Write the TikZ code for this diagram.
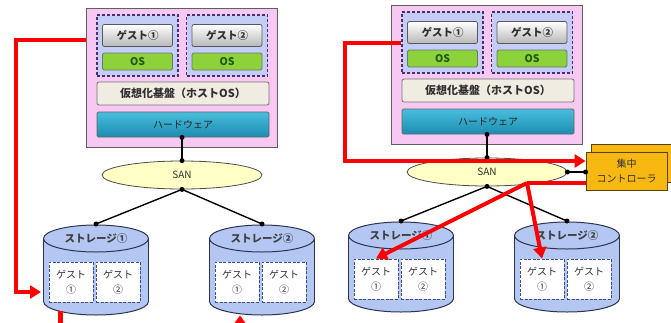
\documentclass[tikz,border=0pt]{standalone}
\usepackage{fontspec}
\setmainfont{Noto Sans CJK JP}
\usetikzlibrary{arrows.meta,shapes.geometric,calc}

\definecolor{hostpink}{HTML}{F6C8F2}
\definecolor{hostedge}{HTML}{606060}
\definecolor{guestblue}{HTML}{C3CDF6}
\definecolor{guestedge}{HTML}{4A3070}
\definecolor{osgreen}{HTML}{8CD23A}
\definecolor{ostext}{HTML}{1E5A14}
\definecolor{basebeige}{HTML}{F1ECE2}
\definecolor{hwtop}{HTML}{48BEDC}
\definecolor{hwbot}{HTML}{1C8CB0}
\definecolor{sanyellow}{HTML}{FFFFC6}
\definecolor{storblue}{HTML}{B4C6F2}
\definecolor{storedge}{HTML}{2E3450}
\definecolor{miniedge}{HTML}{3E4E80}
\definecolor{ctrlgold}{HTML}{F7B812}
\definecolor{ctrledge}{HTML}{5A4010}
\definecolor{txt}{HTML}{303030}

\tikzset{
  hostbox/.style={rectangle, inner sep=0pt, fill=hostpink, draw=hostedge, line width=0.9pt,
    minimum width=191pt, minimum height=139pt},
  guestbox/.style={rectangle, inner sep=0pt, fill=guestblue, draw=guestedge, line width=1.1pt,
    dash pattern=on 3pt off 2pt, minimum width=81pt, minimum height=61pt},
  btn/.style={rectangle, rounded corners=2pt, inner sep=0pt, top color=white, bottom color=black!28,
    draw=black!65, line width=0.8pt, minimum width=70pt, minimum height=22pt,
    font=\fontsize{10.5}{12}\selectfont\bfseries, text=txt},
  osbox/.style={rectangle, rounded corners=1.5pt, inner sep=0pt, fill=osgreen, draw=black!55,
    line width=0.8pt, minimum width=70pt, minimum height=17pt,
    font=\fontsize{10.5}{12}\selectfont\bfseries, text=ostext},
  basebox/.style={rectangle, rounded corners=2pt, inner sep=0pt, fill=basebeige, draw=black!55,
    line width=0.8pt, minimum width=172pt, minimum height=23pt,
    font=\fontsize{11}{12}\selectfont\bfseries, text=txt},
  hwbox/.style={rectangle, rounded corners=1.5pt, inner sep=0pt, top color=hwtop, bottom color=hwbot,
    draw=black!60, line width=0.8pt, minimum width=172pt, minimum height=25pt,
    font=\fontsize{10}{12}\selectfont, text=black!85},
  san/.style={ellipse, inner sep=0pt, fill=sanyellow, draw=black!70, line width=0.8pt,
    minimum width=160pt, minimum height=28pt, font=\fontsize{10}{11}\selectfont, text=txt},
  storfill/.style={fill=storblue},
  storline/.style={draw=storedge, line width=1pt},
  storlabel/.style={inner sep=0pt, font=\fontsize{10.5}{12}\selectfont\bfseries, text=black!75},
  mini/.style={rectangle, inner sep=0pt, fill=white, draw=miniedge, line width=1pt,
    dash pattern=on 3pt off 1.5pt, minimum width=44pt, minimum height=40pt, align=center,
    font=\fontsize{10}{15}\selectfont, text=txt},
  ctrlbox/.style={rectangle, inner sep=0pt, fill=ctrlgold, draw=ctrledge, line width=0.9pt,
    minimum width=81pt, minimum height=38pt, align=center,
    font=\fontsize{10}{15}\selectfont, text=txt},
  link/.style={draw=black, line width=1.4pt},
  jdot/.style={circle, fill=black, inner sep=0pt, minimum size=5pt},
  redline/.style={draw=red, line width=4pt, line join=miter},
  redarrow/.style={redline, -{Triangle[length=11pt,width=13pt]}},
}

% one storage cylinder: name, centre x, label
\newcommand\storcyl[3]{%
  \fill[storfill] (#2,301.5) ellipse[x radius=52.5, y radius=13.5];
  \draw[storline] (#2,301.5) ellipse[x radius=52.5, y radius=13.5];
  \fill[storfill] (#2-52.5,238.5) rectangle (#2+52.5,301.5);
  \draw[storline] (#2-52.5,238.5) -- (#2-52.5,301.5) (#2+52.5,238.5) -- (#2+52.5,301.5);
  \filldraw[storfill, storline] (#2,238.5) ellipse[x radius=52.5, y radius=13.5];
  \node[storlabel] (#1) at (#2,238.5) {#3};
  \coordinate (#1top) at (#2,224);
  \node[mini] (#1g1) at (#2-25,282) {ゲスト\\①};
  \node[mini] (#1g2) at (#2+22,282) {ゲスト\\②};
}

% one virtualised server with its SAN and two storages
\newcommand\vpanel[2]{%
\begin{scope}[shift={#2}, name prefix=#1-]
  \node[hostbox] (host) at (181.5,77.5) {};
  \node[guestbox] (g1) at (137.5,45.5) {};
  \node[guestbox] (g2) at (227,45.5) {};
  \node[btn] (b1) at (137.5,35.5) {ゲスト①};
  \node[osbox] (os1) at (137.5,61.5) {OS};
  \node[btn] (b2) at (227,35.5) {ゲスト②};
  \node[osbox] (os2) at (227,61.5) {OS};
  \node[basebox] (base) at (183,93.5) {仮想化基盤（ホストOS）};
  \node[hwbox] (hw) at (183,124.5) {ハードウェア};
  \node[san] (san) at (182,175) {SAN};
  \storcyl{s1}{96}{ストレージ①}
  \storcyl{s2}{262}{ストレージ②}
  \draw[link] (hw.south -| san.north) -- (san.north);
  \node[jdot] at (hw.south -| san.north) {};
  \node[jdot] at (san.north) {};
  \draw[link] (san.south) -- (s1top);
  \draw[link] (san.south) -- (s2top);
  \node[jdot] at (san.south) {};
  \node[jdot] at (s1top) {};
  \node[jdot] at (s2top) {};
\end{scope}}

\begin{document}
\begin{tikzpicture}[x=1pt, y=-1pt]
  \useasboundingbox (0,0) rectangle (671,322);
  \fill[white] (0,0) rectangle (671,322);

  \vpanel{L}{(0,0)}
  \vpanel{R}{(305,-3)}

  % central controller (stacked sheets)
  \node[ctrlbox] (ctrlback) at (631.5,163) {};
  \node[ctrlbox] (ctrl) at (626.5,171) {集中\\コントローラ};
  \draw[link] (R-san.east) -- (ctrl.west |- R-san.east);
  \node[jdot] at (R-san.east) {};
  \node[jdot] at (ctrl.west |- R-san.east) {};

  % migration path, left panel
  \coordinate (lA) at (16,40);
  \coordinate (lB) at (16,292);
  \coordinate (lC) at (41,292);
  \draw[redarrow] (L-host.west |- lA) -- (lA) -- (lB) -- (lC);
  \coordinate (lbar) at (60.5,311);
  \draw[draw=red, line width=5pt] (lbar) -- ++(0,13);
  \coordinate (ltip) at (240,315.5);
  \fill[red] (ltip) -- ++(-5.5,7.5) -- ++(11,0) -- cycle;

  % controller paths, right panel
  \coordinate (rA) at (345,43);
  \coordinate (rB) at (345,161);
  \draw[redarrow] (R-g1.west |- rA) -- (rA) -- (rB) -- (ctrl.west |- rB);
  \coordinate (cJ) at (527,183);
  \draw[redline] (ctrl.west |- cJ) -- (cJ);
  \draw[redarrow] (cJ) -- (R-s2g1.north);
  \draw[redarrow] (cJ) -- (R-s1g1.north);
\end{tikzpicture}
\end{document}
